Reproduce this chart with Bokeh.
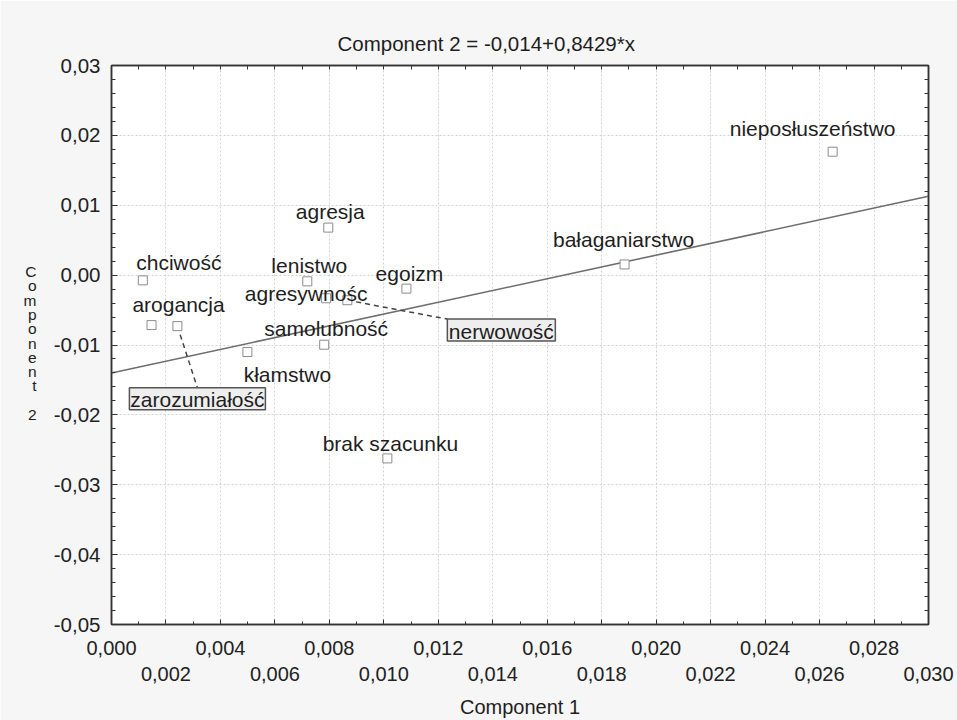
from bokeh.plotting import figure
from bokeh.models import FixedTicker, LinearAxis, Range1d, ColumnDataSource
from bokeh.core.properties import value
from bokeh.embed import file_html
from bokeh.resources import INLINE

# ---------------- data ----------------
names = ["nieposłuszeństwo", "bałaganiarstwo", "agresja", "chciwość", "lenistwo",
         "agresywnośc", "egoizm", "nerwowość", "arogancja", "zarozumiałość",
         "samolubność", "kłamstwo", "brak szacunku"]
comp1 = [0.02648, 0.01884, 0.00796, 0.00115, 0.00719,
         0.00788, 0.01083, 0.00866, 0.00147, 0.00242,
         0.00781, 0.00499, 0.01013]
comp2 = [0.01766, 0.00153, 0.00680, -0.00075, -0.00089,
         -0.00331, -0.00193, -0.00359, -0.00715, -0.00730,
         -0.00996, -0.01100, -0.02623]
boxed = ["nerwowość", "zarozumiałość"]

intercept = -0.014
slope = 0.8429

x_tick_values = [0.000, 0.002, 0.004, 0.006, 0.008, 0.010, 0.012, 0.014,
                 0.016, 0.018, 0.020, 0.022, 0.024, 0.026, 0.028, 0.030]
x_tick_labels = ["0,000", "0,002", "0,004", "0,006", "0,008", "0,010", "0,012", "0,014",
                 "0,016", "0,018", "0,020", "0,022", "0,024", "0,026", "0,028", "0,030"]
y_tick_values = [-0.05, -0.04, -0.03, -0.02, -0.01, 0.0, 0.01, 0.02, 0.03]
y_tick_labels = ["-0,05", "-0,04", "-0,03", "-0,02", "-0,01", "0,00", "0,01", "0,02", "0,03"]

title_text = "Component 2 = -0,014+0,8429*x"
x_title = "Component 1"
y_title = "Component 2"

# ---------------- layout / style ----------------
W, H = 957, 720
BL, BR, BT, BB = 111, 29, 65, 93
FW, FH = W - BL - BR, H - BT - BB
X0, X1, Y0, Y1 = 0.0, 0.030, -0.05, 0.03
xpp = (X1 - X0) / FW
ypp = (Y1 - Y0) / FH
FONT = "Liberation Sans"
TXT = "#1e1e1e"
LAB_SHIFT = -6.5

# label offsets in pixels (dx right, dy down), text centre / baseline
label_off = {
    "nieposłuszeństwo": (-20, -17), "bałaganiarstwo": (-1, -18), "agresja": (2, -10),
    "chciwość": (36, -11), "lenistwo": (2, -9), "agresywnośc": (-20, 2),
    "egoizm": (3, -9), "arogancja": (27, -14), "samolubność": (2, -10),
    "kłamstwo": (40, 29), "brak szacunku": (3, -8),
}
# boxed labels: centre offset, half sizes, leader end offset
box_style = {
    "nerwowość": dict(c=(154, 30), hw=54, hh=11, end=(100, 19)),
    "zarozumiałość": dict(c=(20, 73), hw=68, hh=11, end=(20, 62)),
}

p = figure(width=W, height=H, x_range=Range1d(X0, X1), y_range=Range1d(Y0, Y1),
           output_backend="svg", toolbar_location=None,
           min_border_left=BL, min_border_right=BR, min_border_top=BT, min_border_bottom=BB,
           background_fill_color="white", border_fill_color="#f6f6f6",
           outline_line_color="#333333", outline_line_width=1.5)

p.title.text = title_text
p.title.align = "left"
p.title.offset = 226
p.title.text_font = FONT
p.title.text_font_size = "20.5px"
p.title.text_font_style = "normal"
p.title.text_color = TXT
p.title.standoff = 22

x_minor = [round(i * 0.001, 3) for i in range(31)]
y_minor = [round(-0.05 + i * 0.002, 3) for i in range(41)]
xt = FixedTicker(ticks=x_tick_values, minor_ticks=x_minor)
yt = FixedTicker(ticks=y_tick_values, minor_ticks=y_minor)

def style_axis(ax, size="20.5px"):
    ax.axis_line_color = "#333333"
    ax.axis_line_width = 1.5
    ax.major_tick_line_color = "#333333"
    ax.minor_tick_line_color = "#333333"
    ax.major_tick_in = 5
    ax.major_tick_out = 0
    ax.minor_tick_in = 3
    ax.minor_tick_out = 0
    ax.major_label_text_font = FONT
    ax.major_label_text_font_size = size
    ax.major_label_text_color = "#222222"

xa = p.xaxis[0]
xa.ticker = xt
style_axis(xa, "20px")
xa.major_label_standoff = 12
xa.major_label_overrides = {v: (lab if i % 2 == 0 else "\n" + lab)
                            for i, (v, lab) in enumerate(zip(x_tick_values, x_tick_labels))}
xa.axis_label = x_title
xa.axis_label_text_font = FONT
xa.axis_label_text_font_size = "20px"
xa.axis_label_text_font_style = "normal"
xa.axis_label_text_color = TXT
xa.axis_label_standoff = 8

ya = p.yaxis[0]
ya.ticker = yt
style_axis(ya)
ya.major_tick_in = 6
ya.minor_tick_in = 4
ya.major_label_standoff = 11
ya.major_label_overrides = {v: lab for v, lab in zip(y_tick_values, y_tick_labels)}

# mirrored tick marks on top and right (minor-only tickers: no labels)
top_ax = LinearAxis(ticker=FixedTicker(ticks=[], minor_ticks=x_minor))
style_axis(top_ax)
top_ax.minor_tick_in = 4
top_ax.major_label_standoff = 0
p.add_layout(top_ax, "above")
right_ax = LinearAxis(ticker=FixedTicker(ticks=[], minor_ticks=y_minor))
style_axis(right_ax)
right_ax.minor_tick_in = 4
right_ax.major_label_standoff = 0
p.add_layout(right_ax, "right")

# stacked y-axis title: an extra unlined axis whose labels are the letters
pitch = 14.4
first_letter_y = 272
letter_vals, letter_txt = [], []
for i, ch in enumerate(y_title):
    if ch == " ":
        continue
    py = first_letter_y + i * pitch
    letter_vals.append(Y1 - (py - BT) * ypp)
    letter_txt.append(ch)
lab_ax = LinearAxis(ticker=FixedTicker(ticks=letter_vals))
lab_ax.major_label_overrides = {v: t for v, t in zip(letter_vals, letter_txt)}
lab_ax.axis_line_color = None
lab_ax.major_tick_line_color = None
lab_ax.minor_tick_line_color = None
lab_ax.major_tick_out = 0
lab_ax.major_tick_in = 0
lab_ax.minor_tick_out = 0
lab_ax.minor_tick_in = 0
lab_ax.major_label_standoff = 14
lab_ax.major_label_text_font = FONT
lab_ax.major_label_text_font_size = "15.5px"
lab_ax.major_label_text_color = TXT
p.add_layout(lab_ax, "left")

for g in (p.xgrid[0], p.ygrid[0]):
    g.grid_line_color = "#d2d2d2"
    g.grid_line_dash = "2 2"
    g.grid_line_width = 1
p.xgrid[0].ticker = FixedTicker(ticks=x_tick_values)
p.ygrid[0].ticker = FixedTicker(ticks=y_tick_values)

# regression line
p.line([X0, X1], [intercept + slope * X0, intercept + slope * X1],
       line_color="#6e6e6e", line_width=1.6)

# leader lines and boxes
lx0, ly0, lx1, ly1 = [], [], [], []
bl, br, bt, bb, bx, by, btxt = [], [], [], [], [], [], []
for n, x, y in zip(names, comp1, comp2):
    if n in box_style:
        s = box_style[n]
        lx0.append(x); ly0.append(y)
        lx1.append(x + s["end"][0] * xpp); ly1.append(y - s["end"][1] * ypp)
        cx = x + s["c"][0] * xpp
        cy = y - s["c"][1] * ypp
        bl.append(cx - s["hw"] * xpp); br.append(cx + s["hw"] * xpp)
        bt.append(cy + s["hh"] * ypp); bb.append(cy - s["hh"] * ypp)
        bx.append(cx); by.append(cy); btxt.append(n)

p.segment(lx0, ly0, lx1, ly1, line_color="#444444", line_width=1.5, line_dash="5 4")
p.quad(left=bl, right=br, top=bt, bottom=bb, fill_color="#eeeeee",
       line_color="#555555", line_width=1.5)

# points
p.scatter(comp1, comp2, marker="square", size=9, fill_color="white",
          line_color="#8c8c8c", line_width=1)

# plain labels
plain = [n for n in names if n not in box_style]
src = ColumnDataSource(dict(
    x=[x for n, x in zip(names, comp1) if n not in box_style],
    y=[y for n, y in zip(names, comp2) if n not in box_style],
    t=plain,
    dx=[label_off[n][0] for n in plain],
    dy=[label_off[n][1] + LAB_SHIFT for n in plain],
))
p.text(x="x", y="y", text="t", x_offset="dx", y_offset="dy", source=src,
       text_font=value(FONT), text_font_size=value("21px"), text_color=TXT,
       text_align="center", text_baseline="alphabetic")
p.text(x=bx, y=by, text=btxt, y_offset=1,
       text_font=value(FONT), text_font_size=value("21px"), text_color=TXT,
       text_align="center", text_baseline="middle")

open("out.html", "w").write(file_html(p, INLINE))
